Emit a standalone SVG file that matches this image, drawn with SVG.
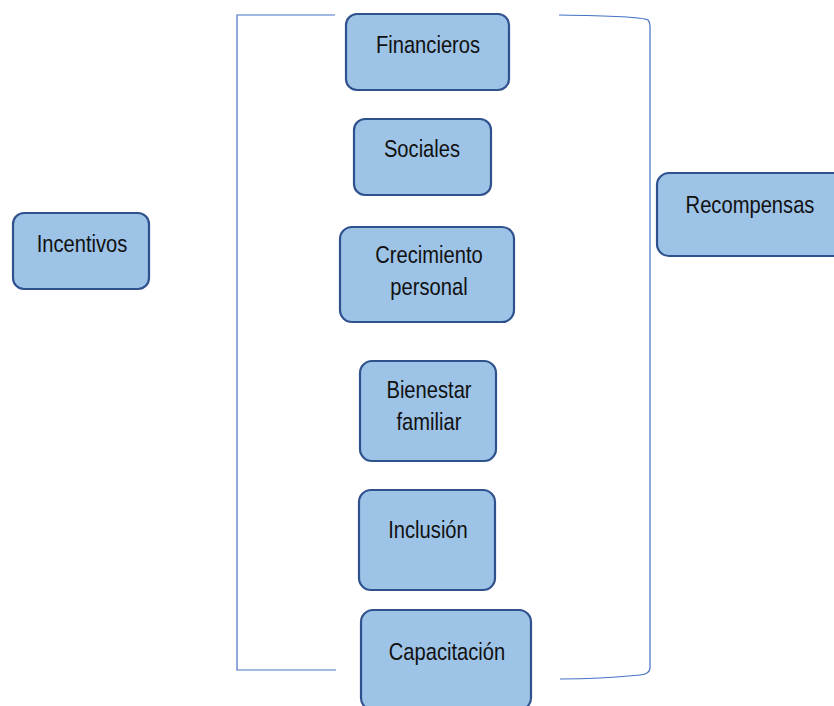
<svg xmlns="http://www.w3.org/2000/svg" width="834" height="706" viewBox="0 0 834 706">
<style>
.box{fill:#9DC3E6;stroke:#2F528F;stroke-width:2.2}
.lbl{font-family:"Liberation Sans Narrow","Liberation Sans",Arial,sans-serif;font-size:24px;fill:#111;text-anchor:middle}
.br{fill:none;stroke:#4472C4;stroke-width:1.2}
</style>
<rect width="834" height="706" fill="#fff"/>
<g id="connectors">
<path class="br" d="M335,15 H237 V670 H336"/>
<path class="br" d="M559,15 Q640,16 648,20 Q650,22 650,26 V668 Q650,674 640,675 Q600,679 560,679"/>
</g>
<g id="incentivos"><rect class="box" x="13" y="213" width="136" height="76" rx="11"/><text class="lbl" transform="translate(82,252) scale(0.84,1)">Incentivos</text></g>
<g id="financieros"><rect class="box" x="346" y="14" width="163" height="76" rx="11"/><text class="lbl" transform="translate(428,53) scale(0.84,1)">Financieros</text></g>
<g id="sociales"><rect class="box" x="354" y="119" width="137" height="76" rx="11"/><text class="lbl" transform="translate(422,157) scale(0.84,1)">Sociales</text></g>
<g id="crecimiento"><rect class="box" x="340" y="227" width="174" height="95" rx="12"/><text class="lbl" transform="translate(429,263) scale(0.84,1)">Crecimiento</text><text class="lbl" transform="translate(429,295) scale(0.84,1)">personal</text></g>
<g id="bienestar"><rect class="box" x="360" y="361" width="136" height="100" rx="12"/><text class="lbl" transform="translate(429,398) scale(0.84,1)">Bienestar</text><text class="lbl" transform="translate(429,430) scale(0.84,1)">familiar</text></g>
<g id="inclusion"><rect class="box" x="359" y="490" width="136" height="100" rx="12"/><text class="lbl" transform="translate(428,538) scale(0.84,1)">Inclusión</text></g>
<g id="capacitacion"><rect class="box" x="361" y="610" width="170" height="100" rx="12"/><text class="lbl" transform="translate(447,660) scale(0.84,1)">Capacitación</text></g>
<g id="recompensas"><rect class="box" x="657" y="173" width="190" height="83" rx="12"/><text class="lbl" transform="translate(750,213) scale(0.84,1)">Recompensas</text></g>
</svg>
